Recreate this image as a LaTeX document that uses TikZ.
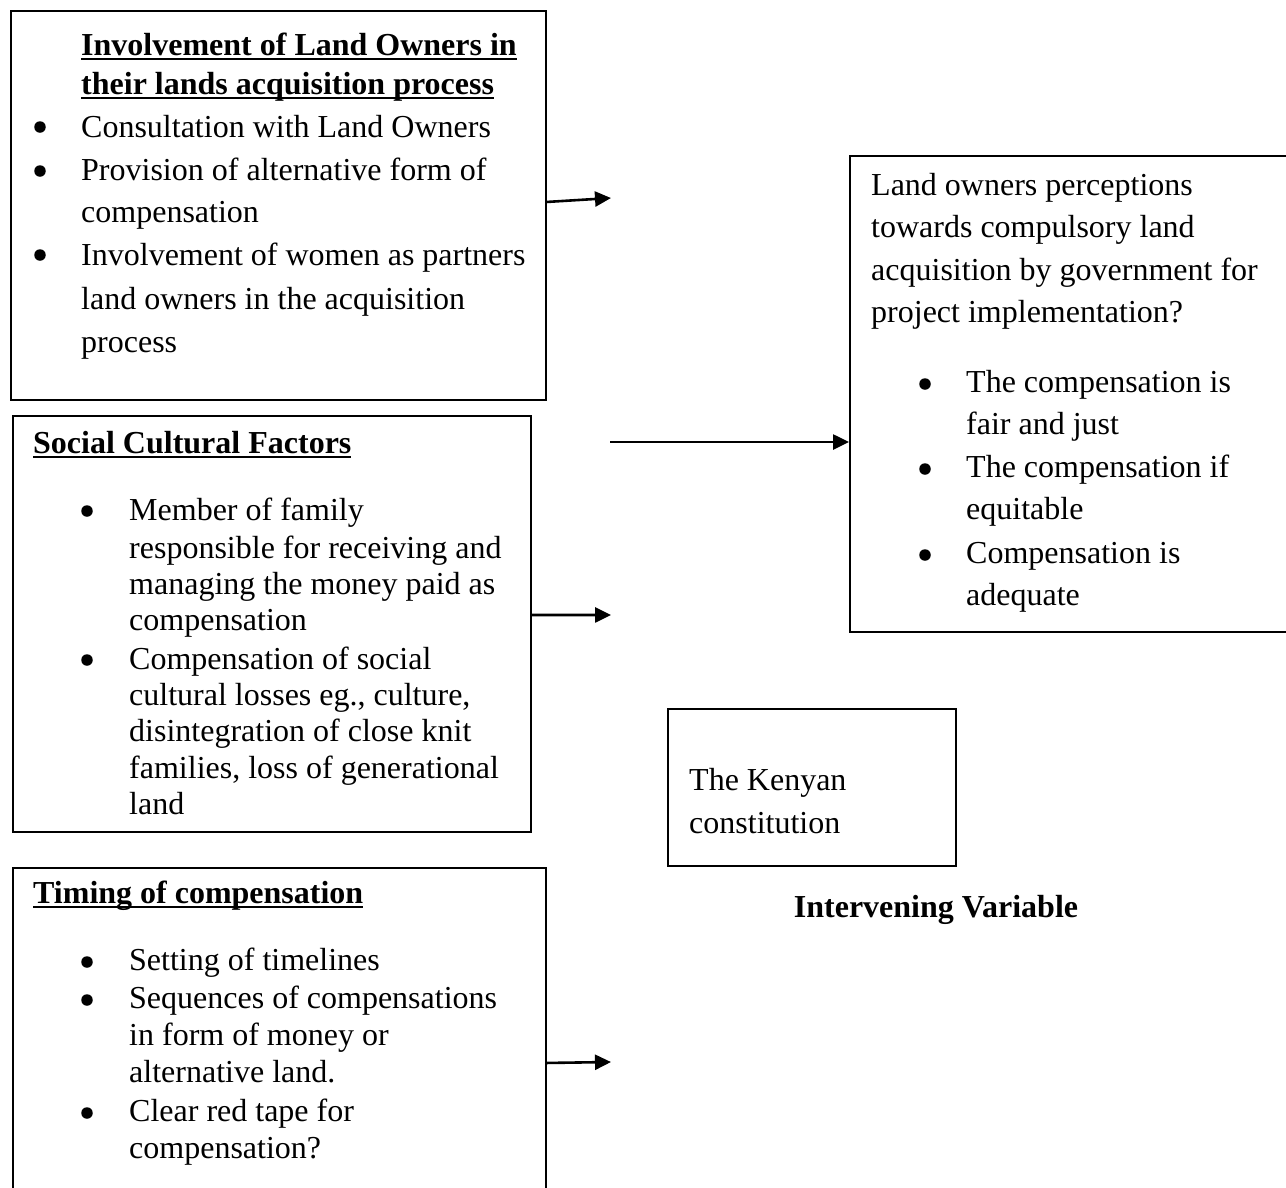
\documentclass[tikz,border=0pt]{standalone}
\usepackage{fontspec}
\setmainfont{Liberation Serif}
\usetikzlibrary{arrows.meta}
\newcommand{\myul}[1]{\setbox0\hbox{#1}\rlap{\rule[-5pt]{\wd0}{2.4pt}}\box0}
\begin{document}
\begin{tikzpicture}[x=1pt,y=-1pt,
  box/.style={draw, line width=1.9pt, inner sep=0pt, anchor=north west},
  txt/.style={anchor=base west, inner sep=0pt, font=\fontsize{32}{37}\selectfont},
  ttl/.style={anchor=base west, inner sep=0pt, font=\fontsize{32}{37}\selectfont\bfseries},
  dot/.style={circle, fill, inner sep=0pt, minimum size=11.5pt},
  arr/.style={line width=2.6pt, -{Triangle[length=16pt,width=15pt]}}]
\useasboundingbox (0,0) rectangle (1286,1187);
\clip (0,0) rectangle (1286,1187);
\fill[white] (0,0) rectangle (1286,1187);

% boxes
\node[box, minimum width=535pt, minimum height=389pt] (b1) at (10,10) {};
\node[box, minimum width=518pt, minimum height=416pt] (b2) at (12,415) {};
\node[box, minimum width=533pt, minimum height=340pt] (b3) at (12,867) {};
\node[box, minimum width=460pt, minimum height=476pt] (rb) at (849,155) {};
\node[box, minimum width=288pt, minimum height=157pt] (kb) at (667,708) {};

% box 1
\node[ttl] (t1a) at (81,55) {\myul{Involvement of Land Owners in}};
\node[ttl] (t1b) at (81,94) {\myul{their lands acquisition process}};
\node[dot] (p1a) at (40,127) {};
\node[txt] (l1a) at (81,137) {Consultation with Land Owners};
\node[dot] (p1b) at (40,171) {};
\node[txt] (l1b) at (81,180) {Provision of alternative form of};
\node[txt] (l1c) at (81,222) {compensation};
\node[dot] (p1c) at (40,255) {};
\node[txt] (l1d) at (81,265) {Involvement of women as partners};
\node[txt] (l1e) at (81,309) {land owners in the acquisition};
\node[txt] (l1f) at (81,352) {process};

% box 2
\node[ttl] (t2) at (33,453) {\myul{Social Cultural Factors}};
\node[dot] (p2a) at (87,511) {};
\node[txt] (l2a) at (129,520) {Member of family};
\node[txt] (l2b) at (129,558) {responsible for receiving and};
\node[txt] (l2c) at (129,594) {managing the money paid as};
\node[txt] (l2d) at (129,630) {compensation};
\node[dot] (p2b) at (87,660) {};
\node[txt] (l2e) at (129,669) {Compensation of social};
\node[txt] (l2f) at (129,705) {cultural losses eg., culture,};
\node[txt] (l2g) at (129,741) {disintegration of close knit};
\node[txt] (l2h) at (129,778) {families, loss of generational};
\node[txt] (l2i) at (129,814) {land};

% box 3
\node[ttl] (t3) at (33,903) {\myul{Timing of compensation}};
\node[dot] (p3a) at (87,962) {};
\node[txt] (l3a) at (129,970) {Setting of timelines};
\node[dot] (p3b) at (87,1000) {};
\node[txt] (l3b) at (129,1008) {Sequences of compensations};
\node[txt] (l3c) at (129,1045) {in form of money or};
\node[txt] (l3d) at (129,1082) {alternative land.};
\node[dot] (p3c) at (87,1113) {};
\node[txt] (l3e) at (129,1121) {Clear red tape for};
\node[txt] (l3f) at (129,1158) {compensation?};

% right box
\node[txt] (r1) at (871,195) {Land owners perceptions};
\node[txt] (r2) at (871,237) {towards compulsory land};
\node[txt] (r3) at (871,280) {acquisition by government for};
\node[txt] (r4) at (871,322) {project implementation?};
\node[dot] (pra) at (925,384) {};
\node[txt] (r5) at (966,392) {The compensation is};
\node[txt] (r6) at (966,434) {fair and just};
\node[dot] (prb) at (925,469) {};
\node[txt] (r7) at (966,477) {The compensation if};
\node[txt] (r8) at (966,519) {equitable};
\node[dot] (prc) at (925,555) {};
\node[txt] (r9) at (966,563) {Compensation is};
\node[txt] (r10) at (966,605) {adequate};

% Kenyan box
\node[txt] (k1) at (689,790) {The Kenyan};
\node[txt] (k2) at (689,833) {constitution};
\node[ttl, anchor=base] (iv) at (936,917) {Intervening Variable};

% arrows
\coordinate (e1) at (611,198);
\coordinate (s2) at (610,442);
\coordinate (e3) at (611,615);
\coordinate (e4) at (611,1062);
\draw[arr] ([yshift=3.5pt]b1.east) -- (e1);
\draw[arr] (s2) -- (s2 -| rb.west);
\draw[arr] ([yshift=9pt]b2.east) -- (e3);
\draw[arr] ([yshift=-25pt]b3.east) -- (e4);
\end{tikzpicture}
\end{document}
